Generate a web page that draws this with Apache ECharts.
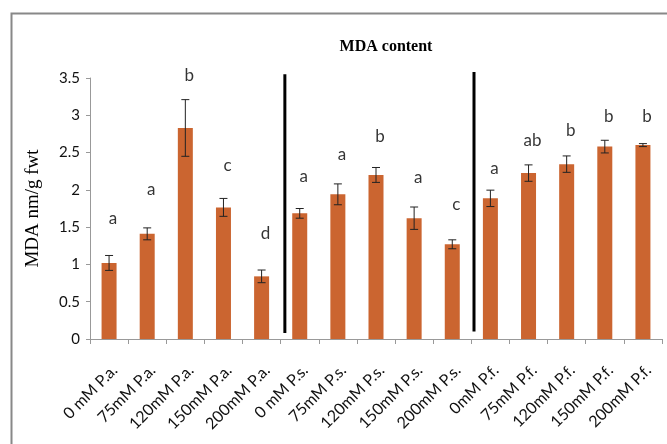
<!DOCTYPE html>
<html><head><meta charset="utf-8">
<script src="https://cdn.jsdelivr.net/npm/echarts@6/dist/echarts.min.js"></script>
<style>html,body{margin:0;padding:0;background:#fff}#c{width:667px;height:444px}</style>
</head><body><div id="c"></div>
<script>
const categories = ['0 mM P.a.','75mM P.a.','120mM P.a.','150mM P.a.','200mM P.a.','0 mM P.s.','75mM P.s.','120mM P.s.','150mM P.s.','200mM P.s.','0mM P.f.','75mM P.f.','120mM P.f.','150mM P.f.','200mM P.f.'];
const means = [1.02,1.41,2.83,1.765,0.84,1.685,1.94,2.2,1.62,1.27,1.886,2.225,2.345,2.58,2.60];
const errs  = [0.10,0.08,0.38,0.12,0.085,0.065,0.14,0.10,0.15,0.06,0.11,0.11,0.11,0.085,0.02];
const letters = ['a','a','b','c','d','a','a','b','a','c','a','ab','b','b','b'];
const letterY = [1.62,2.0,3.54,2.32,1.42,2.18,2.47,2.72,2.17,1.81,2.28,2.66,2.79,2.99,2.99];
const separators = [[5.11,0.08,3.55],[10.07,0.10,3.58]];
const yTicks = ['0','0.5','1','1.5','2','2.5','3','3.5'];

const chart = echarts.init(document.getElementById('c'));
const series = [
  {type:'bar', data: means, barWidth: 15, itemStyle:{color:'#CB6530'}, xAxisIndex:0, yAxisIndex:0},
  {type:'custom', xAxisIndex:0, yAxisIndex:0, z:5,
   data: means.map((m,i)=>[i, m-errs[i], m+errs[i]]),
   renderItem: function(params, api){
     const x = api.value(0);
     const lo = api.coord([x, api.value(1)]);
     const hi = api.coord([x, api.value(2)]);
     const w = 4;
     const st = {stroke:'#222', lineWidth:1};
     return {type:'group', children:[
       {type:'line', shape:{x1:lo[0],y1:lo[1],x2:hi[0],y2:hi[1]}, style:st},
       {type:'line', shape:{x1:lo[0]-w,y1:lo[1],x2:lo[0]+w,y2:lo[1]}, style:st},
       {type:'line', shape:{x1:hi[0]-w,y1:hi[1],x2:hi[0]+w,y2:hi[1]}, style:st}
     ]};
   }},
  {type:'scatter', xAxisIndex:0, yAxisIndex:0, symbolSize:0, clip:false,
   data: letterY.map((v,i)=>[i, v]),
   label:{show:true, position:'inside', offset:[4,0], formatter:p=>letters[p.dataIndex], fontFamily:'Lato', fontSize:17, color:'#000'}}
];
separators.forEach(s=>{
  series.push({type:'line', xAxisIndex:1, yAxisIndex:0, clip:false, symbol:'none',
    data:[[s[0],s[1]],[s[0],s[2]]], lineStyle:{color:'#000', width:3}, z:6});
});
chart.setOption({
  animation:false,
  title:{text:'MDA content', left:381, top:34, textAlign:'center',
    textStyle:{fontFamily:'Liberation Serif', fontWeight:'bold', fontSize:16, color:'#000'}},
  graphic:[{type:'rect', shape:{x:11.5,y:13.5,width:700,height:500}, style:{fill:'none', stroke:'#888', lineWidth:2}, silent:true}],
  grid:{left:90, top:78, width:572, height:261},
  xAxis:[
    {type:'category', data:categories,
     axisLine:{lineStyle:{color:'#999'}},
     axisTick:{show:true, length:5, lineStyle:{color:'#999'}},
     axisLabel:{rotate:45, margin:23, verticalAlign:'top', fontFamily:'Lato', fontSize:16, color:'#111', interval:0}},
    {type:'value', min:0, max:15, show:false}
  ],
  yAxis:[{type:'value', min:0, max:3.5, interval:0.5,
    name:'MDA nm/g fwt', nameLocation:'middle', nameGap:47,
    nameTextStyle:{fontFamily:'Liberation Serif', fontSize:19, color:'#000'},
    axisLine:{show:true, lineStyle:{color:'#999'}},
    axisTick:{show:true, length:4, lineStyle:{color:'#999'}},
    splitLine:{show:false},
    axisLabel:{fontFamily:'Lato', fontSize:15, color:'#111', margin:10,
      formatter:(v)=>yTicks[Math.round(v/0.5)]}}],
  series: series
});
</script></body></html>
